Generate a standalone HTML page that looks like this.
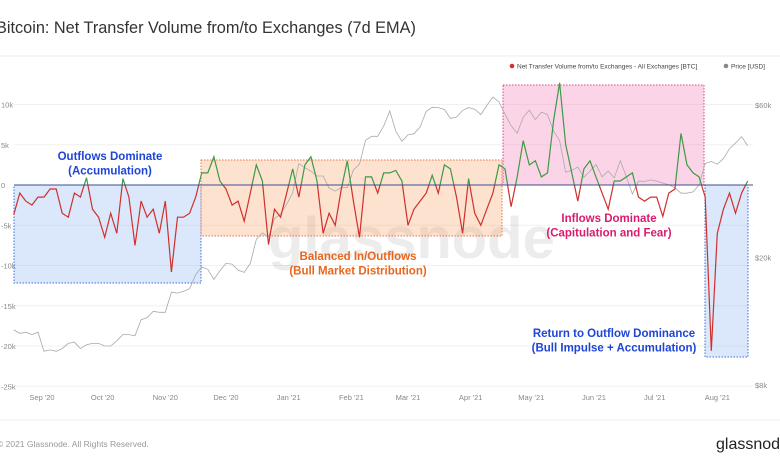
<!DOCTYPE html>
<html><head><meta charset="utf-8">
<style>
html,body{margin:0;padding:0;background:#fff;}
body{width:780px;height:470px;overflow:hidden;font-family:"Liberation Sans",sans-serif;}
</style></head>
<body>
<svg id="chart" width="780" height="470" xmlns="http://www.w3.org/2000/svg">
  <text x="-4" y="33" font-size="16.3" fill="#333">Bitcoin: Net Transfer Volume from/to Exchanges (7d EMA)</text>
  <line x1="0" y1="56" x2="780" y2="56" stroke="#eee"/>
  <line x1="0" y1="420" x2="780" y2="420" stroke="#eee"/>
  <text x="-3" y="447" font-size="8.5" fill="#999">© 2021 Glassnode. All Rights Reserved.</text>
  <text x="716" y="449" font-size="16" fill="#222">glassnode</text>
  <g id="grid"></g>
  <text x="268" y="258" font-size="58" font-weight="bold" fill="#000" fill-opacity="0.075">glassnode</text>
  <g id="boxes"></g>
  <g id="price"></g>
  <g id="flow"></g>
  <g id="labels"></g>
  <g>
    <circle cx="512" cy="66" r="2.3" fill="#d32f2f"/>
    <text x="517" y="68.5" font-size="6.5" fill="#444">Net Transfer Volume from/to Exchanges - All Exchanges [BTC]</text>
    <circle cx="726" cy="66" r="2.3" fill="#888"/>
    <text x="731" y="68.5" font-size="6.5" fill="#444">Price [USD]</text>
  </g>
</svg>
<script>
// Data: 3-day sampling, first point Aug 18 2020 (day -14 relative to Sep 1 2020)
const startDay = -14;
const stepDays = 3;
const flowValues = [-3.7,-1,-2,-2.5,-1.5,-1.5,-0.5,-0.5,-3.5,-4,-1,-1.5,0.9,-3,-4,-6.5,-3.5,-6,0.8,-1.5,-7.5,-2,-4,-3,-6,-2,-10.8,-4,-4,-3.5,-1.5,1.5,1.5,3.5,0.5,-0.5,-2.5,-2,-4.5,-1,2.5,0.5,-7.4,-3,-4,-1,2,-1.5,2.5,3.5,0.5,-6,-3.5,-5,-0.5,3,-2,-6.5,1,1,-1,1.5,1.5,1.8,0.5,-5,-3,-2,-1,1.2,-1,2.5,2,-1.5,-6,0.8,-3.5,-5,-3,-1,2.5,2,-2.7,1,5.5,2.5,3,1,1.5,8,12.7,5,1.5,-2,2,3,1,-1,-3,0.5,0.5,1,1.5,-1.5,-2,-1.5,-1.5,-3.9,-1,-0.5,6.4,2.5,1.5,1,-1.5,-20.6,-6,-3,-1,-3.5,-1,0.5];
const priceValues = [11.9,11.6,11.7,11.5,11.7,10.2,10.3,10.2,10.4,10.8,10.9,10.4,10.7,10.8,10.8,10.6,10.6,11.0,11.5,11.5,11.4,12.8,13.0,13.6,13.5,13.5,15.6,15.5,15.7,16.0,17.7,18.7,18.4,17.1,18.2,19.2,19.1,18.3,18.0,19.2,22.8,23.9,23.2,26.5,27.4,29.4,31.9,39.4,38.2,37.3,36.0,36.0,33.0,32.3,33.1,33.1,37.6,39.2,46.5,47.9,47.9,51.6,57.5,49.7,46.2,48.4,48.8,51.2,57.3,59.0,58.9,58.1,54.5,55.0,57.7,58.9,58.2,56.0,59.8,63.5,61.3,56.2,51.7,49.0,54.9,57.8,54.0,57.0,56.0,49.7,46.4,37.0,37.5,38.4,35.7,37.3,39.1,35.8,37.3,35.5,40.2,35.8,31.6,34.7,34.6,35.0,34.7,34.2,33.8,33.1,31.8,31.8,32.1,33.8,39.4,40.0,39.2,40.8,43.8,45.6,47.8,44.7];
const leftTicks = [10,5,0,-5,-10,-15,-20,-25];
const leftTickLabels = ["10k","5k","0","-5k","-10k","-15k","-20k","-25k"];
const rightTicks = [60,20,8];
const rightTickLabels = ["$60k","$20k","$8k"];
const monthDays = [0,30,61,91,122,153,181,212,242,273,303,334];
const monthLabels = ["Sep '20","Oct '20","Nov '20","Dec '20","Jan '21","Feb '21","Mar '21","Apr '21","May '21","Jun '21","Jul '21","Aug '21"];

const NS = "http://www.w3.org/2000/svg";
const X0 = 14, X1 = 753;
const xScale = d => 42 + d * 2.022;
const yFlow = v => 185 - v * 8.05;
const yPrice = p => 105 - 139 * Math.log(p / 60);
function mk(tag, attrs, parent){const e=document.createElementNS(NS,tag);for(const k in attrs)e.setAttribute(k,attrs[k]);parent.appendChild(e);return e;}

const grid = document.getElementById('grid');
const labels = document.getElementById('labels');
leftTicks.forEach((t,i)=>{
  const y=yFlow(t);
  const l=mk('line',{x1:X0,x2:X1,y1:y,y2:y,stroke:'#f0f0f0'},grid);
  
  
  const tx=mk('text',{x:1,y:y+3,'font-size':7.5,fill:'#888'},labels);
  tx.textContent=leftTickLabels[i];
  
  
});
rightTicks.forEach((t,i)=>{
  const tx=mk('text',{x:755,y:yPrice(t)+3,'font-size':7.5,fill:'#888'},labels);
  tx.textContent=rightTickLabels[i];
  
  
});
monthDays.forEach((d,i)=>{
  const tx=mk('text',{x:xScale(d),y:400,'font-size':7.5,fill:'#888','text-anchor':'middle'},labels);
  tx.textContent=monthLabels[i];
  
  
});

const boxes=document.getElementById('boxes');
function box(name,x1,x2,y1,y2,fill,stroke){
  const r=mk('rect',{x:x1,y:y1,width:x2-x1,height:y2-y1,fill:fill,stroke:stroke,'stroke-dasharray':'1.5,1.5','stroke-width':1},boxes);
  
  
}
box('accumulation-box',14,201,185,283,'rgba(110,160,240,0.25)','#3a6fd8');
box('distribution-box',201,502,160,236,'rgba(250,165,110,0.32)','#e8734a');
box('capitulation-box',503,704,85,185,'rgba(245,120,180,0.32)','#d8468a');
box('return-accumulation-box',705,748,185,357,'rgba(110,160,240,0.25)','#3a6fd8');

const pricePts=priceValues.map((p,i)=>xScale(startDay+i*stepDays).toFixed(1)+','+yPrice(p).toFixed(1)).join(' ');
const pl=mk('polyline',{points:pricePts,fill:'none',stroke:'#aaa','stroke-width':0.8},document.getElementById('price'));



const flow=document.getElementById('flow');
const defs=mk('defs',{},flow);
const cu=mk('clipPath',{id:'above'},defs);mk('rect',{x:0,y:0,width:780,height:yFlow(0)},cu);
const cd=mk('clipPath',{id:'below'},defs);mk('rect',{x:0,y:yFlow(0),width:780,height:300},cd);
const flowPts=flowValues.map((v,i)=>xScale(startDay+i*stepDays).toFixed(1)+','+yFlow(v).toFixed(1)).join(' ');
const fa=mk('polyline',{points:flowPts,fill:'none',stroke:'#3d9a45','stroke-width':1.2,'clip-path':'url(#above)'},flow);


const fb=mk('polyline',{points:flowPts,fill:'none',stroke:'#d0302c','stroke-width':1.2,'clip-path':'url(#below)'},flow);


const zl=mk('line',{x1:X0,x2:X1,y1:yFlow(0),y2:yFlow(0),stroke:'#3a4f8f','stroke-width':1},flow);



function note(name,x,y,lines,color){
  const t=mk('text',{x:x,y:y,'font-size':11.5,'font-weight':'bold',fill:color,'text-anchor':'middle'},labels);
  
  
  lines.forEach((s,i)=>{const ts=mk('tspan',{x:x,dy:i?14.5:0},t);ts.textContent=s;});
}
note('accumulation-annotation',110,160,['Outflows Dominate','(Accumulation)'],'#1f45d6');
note('distribution-annotation',358,260,['Balanced In/Outflows','(Bull Market Distribution)'],'#e8661e');
note('capitulation-annotation',609,222,['Inflows Dominate','(Capitulation and Fear)'],'#d91c6e');
note('return-accumulation-annotation',614,337,['Return to Outflow Dominance','(Bull Impulse + Accumulation)'],'#1f45d6');
</script>
</body></html>
